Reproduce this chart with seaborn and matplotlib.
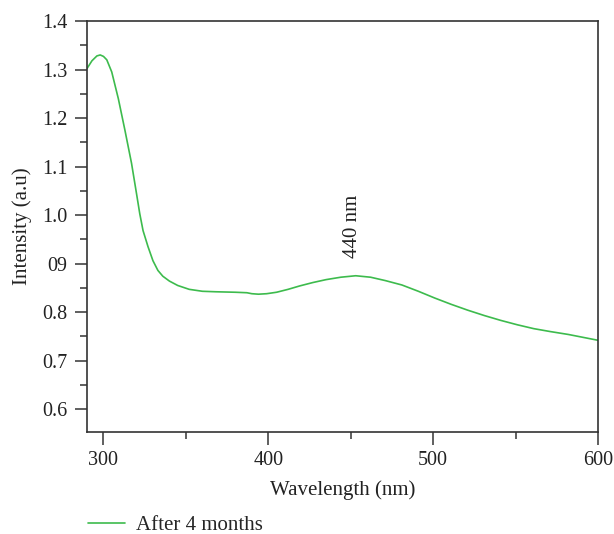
import matplotlib
matplotlib.use("Agg")
import matplotlib.pyplot as plt
import numpy as np
import pandas as pd
import seaborn as sns

# spectrum
wavelength = [290, 293, 296, 298, 300, 302, 305, 309, 313, 317, 320, 322, 324, 327,
              330, 333, 336, 340, 345, 352, 360, 368, 380, 387, 390, 394, 399, 405,
              412, 419, 427, 435, 444, 453, 462, 471, 481, 491, 501, 511, 521, 531,
              541, 551, 561, 571, 582, 591, 600]
intensity = [1.302, 1.318, 1.328, 1.330, 1.327, 1.320, 1.295, 1.240, 1.175, 1.107,
             1.045, 1.003, 0.968, 0.935, 0.906, 0.886, 0.874, 0.864, 0.855, 0.847,
             0.843, 0.842, 0.841, 0.840, 0.838, 0.837, 0.838, 0.841, 0.847, 0.854,
             0.861, 0.867, 0.872, 0.875, 0.872, 0.865, 0.856, 0.843, 0.829, 0.816,
             0.804, 0.793, 0.783, 0.774, 0.766, 0.760, 0.754, 0.748, 0.742]
yticks = [0.6, 0.7, 0.8, 0.9, 1.0, 1.1, 1.2, 1.3, 1.4]
ytick_labels = ["0.6", "0.7", "0.8", "09", "1.0", "1.1", "1.2", "1.3", "1.4"]
xticks = [300, 400, 500, 600]

df = pd.DataFrame({"Wavelength": wavelength, "Intensity": intensity})

sns.set_theme(style="ticks")
plt.rcParams['font.family'] = ['Liberation Serif', 'DejaVu Serif']

fig = plt.figure(figsize=(6.14, 5.34), dpi=100)
ax = fig.add_axes([0.1417, 0.191, 0.8323, 0.7697])

sns.lineplot(data=df, x="Wavelength", y="Intensity", color="#3dbb4d", lw=1.2,
             label="After 4 months", ax=ax)

ax.set_xlim(290, 600)
ax.set_ylim(0.553, 1.4)
ax.set_xticks(xticks)
ax.set_xticks([350, 450, 550], minor=True)
ax.set_yticks(yticks)
ax.set_yticklabels(ytick_labels)
ax.set_yticks(np.arange(0.65, 1.4, 0.1), minor=True)

ax.tick_params(axis="both", which="major", length=9, width=1.2, color="#444444",
               labelsize=14.5, labelcolor="#222222", direction="out", pad=5)
ax.tick_params(axis="both", which="minor", length=5, width=1.2, color="#444444",
               direction="out")
for s in ax.spines.values():
    s.set_visible(True)
    s.set_linewidth(1.2)
    s.set_color("#333333")

ax.set_xlabel("Wavelength (nm)", fontsize=15, color="#222222", labelpad=7)
ax.set_ylabel("Intensity (a.u)", fontsize=15, color="#222222", labelpad=7)

ax.text(451, 0.977, "440 nm", rotation=90, ha="center", va="center",
        fontsize=15, color="#222222")

ax.legend(loc="lower left", bbox_to_anchor=(0.13, -0.018), bbox_transform=fig.transFigure,
          frameon=False, fontsize=15, handlelength=1.75, handletextpad=0.55,
          borderaxespad=0)

fig.savefig("out.png", dpi=100)
